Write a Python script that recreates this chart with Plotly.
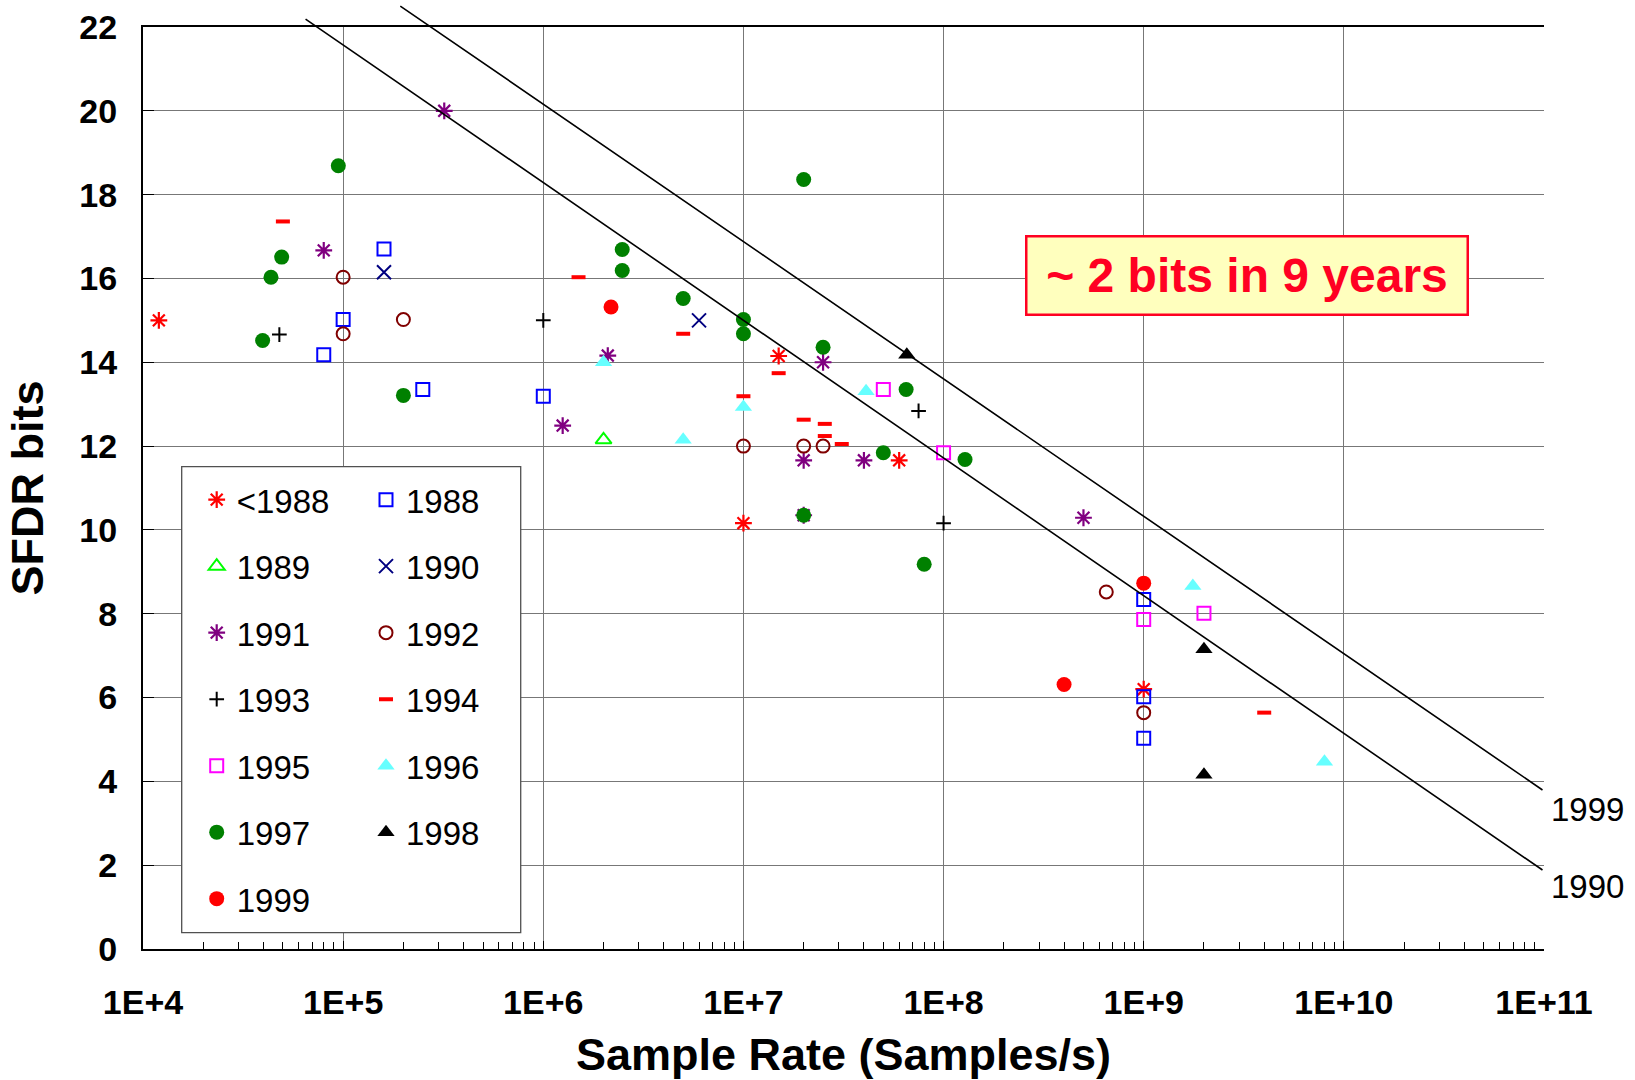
import numpy as np
import plotly.graph_objects as go

FONT = "Liberation Sans, Arial, sans-serif"

# ---- data: sample rate (samples/s) and SFDR (bits), grouped by year ----
PRE1988_RATE = [1.2e4, 1.5e7, 1.0e7, 6.0e7, 1.0e9]
PRE1988_BITS = [15.0, 14.15, 10.16, 11.66, 6.2]

Y1988_RATE = [1.6e5, 1.0e5, 8.0e4, 2.5e5, 1.0e6, 1.0e9, 1.0e9, 1.0e9]
Y1988_BITS = [16.7, 15.02, 14.18, 13.35, 13.19, 8.34, 6.02, 5.03]

Y1989_RATE = [2.0e6]
Y1989_BITS = [12.15]

Y1990_RATE = [1.6e5, 6.0e6]
Y1990_BITS = [16.15, 15.0]

Y1991_RATE = [8.0e4, 3.2e5, 2.1e6, 1.25e6, 2.5e7, 2.0e7, 4.0e7, 2.0e7, 5.0e8]
Y1991_BITS = [16.67, 20.0, 14.16, 12.49, 14.0, 11.66, 11.66, 10.35, 10.29]

Y1992_RATE = [1.0e5, 1.0e5, 2.0e5, 1.0e7, 2.0e7, 2.5e7, 6.5e8, 1.0e9]
Y1992_BITS = [16.03, 14.68, 15.02, 12.0, 12.0, 12.0, 8.52, 5.64]

Y1993_RATE = [4.8e4, 1.0e6, 7.5e7, 1.0e8]
Y1993_BITS = [14.66, 15.0, 12.84, 10.16]

Y1994_RATE = [5.0e4, 1.5e6, 5.0e6, 1.0e7, 1.5e7, 2.0e7, 2.55e7, 2.55e7, 3.1e7, 4.0e9]
Y1994_BITS = [17.36, 16.03, 14.68, 13.19, 13.74, 12.63, 12.53, 12.24, 12.05, 5.64]

Y1995_RATE = [5.0e7, 1.0e8, 1.0e9, 2.0e9]
Y1995_BITS = [13.35, 11.84, 7.86, 8.01]

Y1996_RATE = [2.0e6, 5.0e6, 1.0e7, 4.1e7, 1.76e9, 8.0e9]
Y1996_BITS = [14.0, 12.15, 12.93, 13.31, 8.66, 4.47]

Y1997_RATE = [9.46e4, 4.93e4, 4.36e4, 3.96e4, 2.0e5, 2.48e6, 2.48e6, 5.0e6,
              1.0e7, 1.0e7, 2.0e7, 2.5e7, 6.5e7, 5.0e7, 1.28e8, 2.0e7, 8.0e7]
Y1997_BITS = [18.69, 16.51, 16.03, 14.52, 13.21, 16.69, 16.19, 15.52,
              15.02, 14.68, 18.36, 14.36, 13.35, 11.84, 11.68, 10.35, 9.18]

Y1998_RATE = [6.55e7, 2.0e9, 2.0e9]
Y1998_BITS = [14.18, 7.15, 4.16]

Y1999_RATE = [2.18e6, 1.0e9, 4.0e8]
Y1999_BITS = [15.32, 8.73, 6.31]

# trend lines: start (upper left) and end (at 1E+11)
TREND_1990_RATE = [6.49e4, 1.0e11]
TREND_1990_BITS = [22.19, 1.86]
TREND_1999_RATE = [1.93e5, 1.0e11]
TREND_1999_BITS = [22.5, 3.77]

X_TICKS = [1e4, 1e5, 1e6, 1e7, 1e8, 1e9, 1e10, 1e11]
X_TICK_TEXT = ["1E+4", "1E+5", "1E+6", "1E+7", "1E+8", "1E+9", "1E+10", "1E+11"]
Y_TICKS = list(range(0, 23, 2))

# ---- marker styles per series: name, data, symbol, colour, size, stroke, legend column ----
series = [
    ("&lt;1988", PRE1988_RATE, PRE1988_BITS, "asterisk-open", "#FF0000", 14, 2.2, "legend"),
    ("1988", Y1988_RATE, Y1988_BITS, "square-open", "#0000FF", 13, 2.0, "legend2"),
    ("1989", Y1989_RATE, Y1989_BITS, "triangle-up-open", "#00FF00", 14, 2.0, "legend"),
    ("1990", Y1990_RATE, Y1990_BITS, "x-thin-open", "#000080", 14, 2.0, "legend2"),
    ("1991", Y1991_RATE, Y1991_BITS, "asterisk-open", "#800080", 14, 2.2, "legend"),
    ("1992", Y1992_RATE, Y1992_BITS, "circle-open", "#800000", 13, 2.0, "legend2"),
    ("1993", Y1993_RATE, Y1993_BITS, "cross-thin-open", "#000000", 10.5, 2.0, "legend"),
    ("1994", Y1994_RATE, Y1994_BITS, "line-ew-open", "#FF0000", 10, 4.0, "legend2"),
    ("1995", Y1995_RATE, Y1995_BITS, "square-open", "#FF00FF", 13, 2.0, "legend"),
    ("1996", Y1996_RATE, Y1996_BITS, "triangle-up", "#66FFFF", 15, 0, "legend2"),
    ("1997", Y1997_RATE, Y1997_BITS, "circle", "#008000", 15, 0, "legend"),
    ("1998", Y1998_RATE, Y1998_BITS, "triangle-up", "#000000", 15, 0, "legend2"),
    ("1999", Y1999_RATE, Y1999_BITS, "circle", "#FF0000", 15, 0, "legend"),
]

fig = go.Figure()
for name, rates, bits, symbol, color, size, lw, legend_id in series:
    fig.add_trace(go.Scatter(
        x=rates, y=bits, mode="markers", name=name,
        legend=legend_id, legendgroup=name,
        marker=dict(symbol=symbol, size=size, color=color,
                    line=dict(color=color, width=lw)),
        cliponaxis=False,
        hoverinfo="x+y+name",
    ))

minor_ticks = [m * 10 ** e for e in range(4, 11) for m in range(2, 10)]

tick_font = dict(family=FONT, size=34, color="black", weight="bold")
legend_common = dict(
    xanchor="left", yanchor="top",
    bgcolor="rgba(0,0,0,0)", borderwidth=0,
    font=dict(family=FONT, size=33, color="black"),
    tracegroupgap=20.6, orientation="v",
)

# trend lines drawn as arrow-less callouts so they may run past the top border
annotations = []
for rates, bits in [(TREND_1990_RATE, TREND_1990_BITS), (TREND_1999_RATE, TREND_1999_BITS)]:
    annotations.append(dict(
        x=np.log10(rates[0]), y=bits[0], xref="x", yref="y",
        ax=np.log10(rates[1]), ay=bits[1], axref="x", ayref="y",
        text=" ", font=dict(size=1), showarrow=True, arrowhead=0,
        arrowwidth=1.6, arrowcolor="black", standoff=0, startstandoff=0,
    ))

annotations += [
    dict(text="1999", xref="paper", yref="paper", x=1.0036, y=0.1511,
         xanchor="left", yanchor="middle", showarrow=False,
         font=dict(family=FONT, size=33, color="black")),
    dict(text="1990", xref="paper", yref="paper", x=1.0036, y=0.0680,
         xanchor="left", yanchor="middle", showarrow=False,
         font=dict(family=FONT, size=33, color="black")),
    dict(text="<b>~ 2 bits in 9 years</b>", xref="paper", yref="paper",
         x=0.788, y=0.731, xanchor="center", yanchor="middle", showarrow=False,
         font=dict(family=FONT, size=48, color="#FF0022"),
         bgcolor="#FFFFBE", bordercolor="#FF0022", borderwidth=2.5, borderpad=2,
         width=435, height=72),
]

fig.update_layout(
    width=1635, height=1080,
    margin=dict(l=143, r=91, t=27, b=131, autoexpand=False),
    paper_bgcolor="white", plot_bgcolor="white",
    font=dict(family=FONT, color="black"),
    xaxis=dict(
        type="log", range=[4, 11], automargin=False,
        tickmode="array", tickvals=X_TICKS, ticktext=X_TICK_TEXT,
        ticks="inside", ticklen=8, tickwidth=1.2, tickcolor="black",
        minor=dict(tickmode="array", tickvals=minor_ticks, ticks="inside",
                   ticklen=7, tickwidth=1.2, tickcolor="black", showgrid=False),
        showgrid=True, gridcolor="#777777", gridwidth=1.3,
        showline=True, linecolor="black", linewidth=2, mirror=True,
        zeroline=False, tickfont=tick_font, ticklabelstandoff=22,
        title=dict(text="<b>Sample Rate (Samples/s)</b>",
                   font=dict(family=FONT, size=45, color="black"), standoff=34),
    ),
    yaxis=dict(
        range=[0, 22], automargin=False, tickmode="array", tickvals=Y_TICKS,
        ticks="inside", ticklen=11, tickwidth=1.2, tickcolor="black",
        showgrid=True, gridcolor="#777777", gridwidth=1.3,
        showline=True, linecolor="black", linewidth=2, mirror=False,
        zeroline=False, tickfont=tick_font, ticklabelstandoff=17,
        title=dict(text="<b>SFDR bits</b>",
                   font=dict(family=FONT, size=45, color="black"), standoff=22),
    ),
    legend=dict(x=0.03833, y=0.5177, **legend_common),
    legend2=dict(x=0.15917, y=0.5177, **legend_common),
    shapes=[dict(type="rect", xref="paper", yref="paper",
                 x0=0.02762, x1=0.26960, y0=0.01768, y1=0.52310,
                 line=dict(color="#505050", width=1.3), fillcolor="white",
                 layer="above")],
    annotations=annotations,
)

fig.write_html("out.html")
